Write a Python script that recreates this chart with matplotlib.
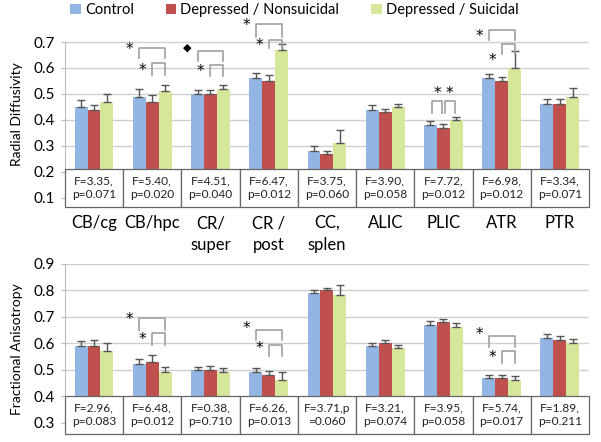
import numpy as np
import matplotlib
matplotlib.use("Agg")
import matplotlib.pyplot as plt
from matplotlib.patches import Rectangle, Patch

plt.rcParams['font.family'] = ['Lato', 'DejaVu Sans']

# ---- data ----
regions = ["CB/cg", "CB/hpc", "CR/\nsuper", "CR /\npost", "CC,\nsplen",
           "ALIC", "PLIC", "ATR", "PTR"]
groups = ["Control", "Depressed / Nonsuicidal", "Depressed / Suicidal"]

rd_control = [0.45, 0.49, 0.50, 0.56, 0.28, 0.44, 0.38, 0.56, 0.46]
rd_nonsuic = [0.44, 0.47, 0.50, 0.55, 0.27, 0.43, 0.37, 0.55, 0.46]
rd_suic    = [0.47, 0.51, 0.52, 0.67, 0.31, 0.45, 0.40, 0.60, 0.49]
rd_err_control = [0.027, 0.030, 0.015, 0.022, 0.020, 0.018, 0.016, 0.017, 0.022]
rd_err_nonsuic = [0.018, 0.026, 0.015, 0.023, 0.012, 0.012, 0.013, 0.015, 0.022]
rd_err_suic    = [0.030, 0.025, 0.015, 0.022, 0.050, 0.013, 0.013, 0.067, 0.032]
rd_stats = ["F=3.35,\np=0.071", "F=5.40,\np=0.020", "F=4.51,\np=0.040",
            "F=6.47,\np=0.012", "F=3.75,\np=0.060", "F=3.90,\np=0.058",
            "F=7.72,\np=0.012", "F=6.98,\np=0.012", "F=3.34,\np=0.071"]

fa_control = [0.59, 0.52, 0.50, 0.49, 0.79, 0.59, 0.67, 0.47, 0.62]
fa_nonsuic = [0.59, 0.53, 0.50, 0.48, 0.80, 0.60, 0.68, 0.47, 0.61]
fa_suic    = [0.57, 0.49, 0.49, 0.46, 0.78, 0.58, 0.66, 0.46, 0.60]
fa_err_control = [0.016, 0.021, 0.010, 0.016, 0.010, 0.012, 0.012, 0.011, 0.015]
fa_err_nonsuic = [0.021, 0.025, 0.013, 0.016, 0.006, 0.012, 0.011, 0.009, 0.017]
fa_err_suic    = [0.030, 0.021, 0.016, 0.030, 0.040, 0.012, 0.014, 0.014, 0.015]
fa_stats = ["F=2.96,\np=0.083", "F=6.48,\np=0.012", "F=0.38,\np=0.710",
            "F=6.26,\np=0.013", "F=3.71,p\n=0.060", "F=3.21,\np=0.074",
            "F=3.95,\np=0.058", "F=5.74,\np=0.017", "F=1.89,\np=0.211"]

# significance brackets: (region, bar a, bar b, top, leg, marker, marker y, side)
rd_sig = [(1, 0, 2, 0.675, 0.035, "*", 0.672, "left"),
          (1, 1, 2, 0.618, 0.045, "*", 0.592, "left"),
          (2, 0, 2, 0.667, 0.040, "\u25c6", 0.678, "left"),
          (2, 1, 2, 0.610, 0.040, "*", 0.586, "left"),
          (3, 0, 2, 0.770, 0.050, "*", 0.762, "left"),
          (3, 1, 2, 0.708, 0.030, "*", 0.686, "left"),
          (6, 0, 1, 0.473, 0.045, "*", 0.500, "top"),
          (6, 1, 2, 0.473, 0.045, "*", 0.500, "top"),
          (7, 0, 2, 0.746, 0.040, "*", 0.720, "left"),
          (7, 1, 2, 0.692, 0.040, "*", 0.630, "left")]
fa_sig = [(1, 0, 2, 0.695, 0.045, "*", 0.690, "left"),
          (1, 1, 2, 0.638, 0.044, "*", 0.612, "left"),
          (3, 0, 2, 0.650, 0.040, "*", 0.655, "left"),
          (3, 1, 2, 0.594, 0.044, "*", 0.580, "left"),
          (7, 0, 2, 0.628, 0.042, "*", 0.634, "left"),
          (7, 1, 2, 0.569, 0.043, "*", 0.546, "left")]

colors = ["#93b5e3", "#c0504d", "#d5e79b"]
W = 0.222


def panel(ax, vals, errs, stats, sig, ylim, ticks, table_top, ylabel):
    x = np.arange(len(regions))
    for k, (v, e) in enumerate(zip(vals, errs)):
        xs = x + (k - 1) * W
        ax.bar(xs, v, W, color=colors[k], zorder=2)
        ax.errorbar(xs, v, yerr=[np.zeros(len(e)), e], fmt="none",
                    ecolor="#555555", elinewidth=1.0, capsize=3,
                    capthick=1.0, zorder=2)
    # data table under the bars
    for i, s in enumerate(stats):
        ax.add_patch(Rectangle((i - 0.5, ylim[0]), 1, table_top - ylim[0],
                               facecolor="white", edgecolor="#666666",
                               lw=0.9, zorder=3, clip_on=False))
        ax.text(i, (ylim[0] + table_top) / 2, s, ha="center", va="center",
                fontsize=8.6, color="#222222", zorder=4, linespacing=1.25)
    # significance brackets
    for (i, a, b, top, leg, mk, my, side) in sig:
        inset = 0.03 if side == "top" else 0.0
        xa = i + (a - 1) * W + inset
        xb = i + (b - 1) * W - inset
        ax.plot([xa, xa, xb, xb], [top - leg, top, top, top - leg],
                color="#a0a0a0", lw=1.2, zorder=2, clip_on=False)
        if side == "left":
            ax.text(xa - 0.1, my, mk, ha="right", va="center",
                    fontsize=11 if mk == "*" else 8, zorder=4,
                    family=["DejaVu Sans"])
        else:
            ax.text((xa + xb) / 2, my, mk, ha="center", va="center",
                    fontsize=11, zorder=4, family=["DejaVu Sans"])
    ax.set_xlim(-0.5, len(regions) - 0.5)
    ax.set_ylim(*ylim)
    ax.set_yticks(ticks)
    ax.set_yticklabels([f"{t:.1f}" for t in ticks], fontsize=11)
    for t in ticks:
        if t > table_top:
            ax.axhline(t, color="#cfcfcf", lw=1.0, zorder=1)
    for s in ["top", "right", "bottom"]:
        ax.spines[s].set_visible(False)
    ax.spines["left"].set_bounds(table_top, ticks[-1])
    ax.spines["left"].set_color("#bbbbbb")
    ax.tick_params(axis="y", length=3, color="#bbbbbb", pad=4)
    ax.set_xticks([])
    ax.set_ylabel(ylabel, fontsize=10, labelpad=8)


fig = plt.figure(figsize=(6.01, 4.42), dpi=100)
ax1 = fig.add_axes([0.108, 0.5317, 0.872, 0.4203])
ax2 = fig.add_axes([0.108, 0.0181, 0.872, 0.3857])

panel(ax1, [rd_control, rd_nonsuic, rd_suic],
      [rd_err_control, rd_err_nonsuic, rd_err_suic],
      rd_stats, rd_sig, (0.065, 0.78), [0.1, 0.2, 0.3, 0.4, 0.5, 0.6, 0.7],
      0.213, "Radial Diffusivity")
panel(ax2, [fa_control, fa_nonsuic, fa_suic],
      [fa_err_control, fa_err_nonsuic, fa_err_suic],
      fa_stats, fa_sig, (0.257, 0.9), [0.3, 0.4, 0.5, 0.6, 0.7, 0.8, 0.9],
      0.4, "Fractional Anisotropy")

# region labels between the panels
for i, r in enumerate(regions):
    ax1.text(i, 0.034, r, ha="center", va="top", fontsize=12,
             linespacing=1.45, clip_on=False)

handles = [Patch(facecolor=c) for c in colors]
fig.legend(handles, groups, loc="center", bbox_to_anchor=(0.49, 0.977),
           ncol=3, frameon=False, fontsize=10.5, handlelength=0.7,
           handleheight=0.7, handletextpad=0.3, columnspacing=2.2)

fig.savefig("out.png", dpi=100)
